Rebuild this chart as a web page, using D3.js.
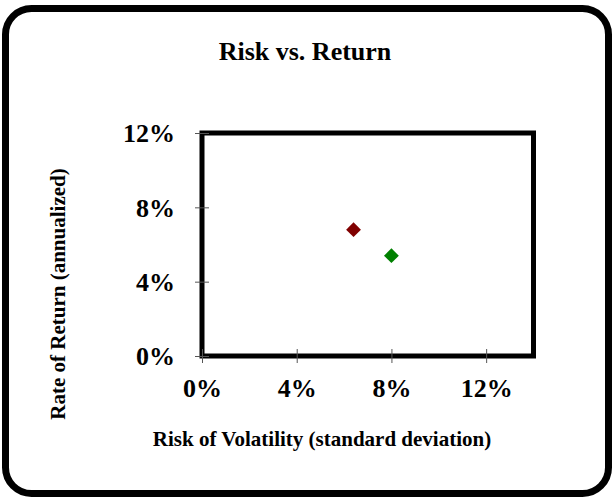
<!DOCTYPE html>
<html>
<head>
<meta charset="utf-8">
<script src="https://cdn.jsdelivr.net/npm/d3@7"></script>
<style>
  body { margin: 0; background: #fff; }
  svg text { font-family: "Liberation Serif", "Times New Roman", serif; font-weight: bold; fill: #000; }
</style>
</head>
<body>
<svg id="chart"></svg>
<script>
(function() {

    // data
    const names = ['Portfolio A', 'Portfolio B'];
    const risk = [6.4, 8.0];
    const ret = [6.8, 5.4];
    const colors = ['#800000', '#008000'];
    const xTicks = [0, 4, 8, 12];
    const yTicks = [0, 4, 8, 12];

    const w = 613;
    const h = 498;

    const plot = { left: 202, right: 533.5, top: 133, bottom: 356 };

    const svg = d3.select('#chart')
        .attr('width', w)
        .attr('height', h);

    // outer frame
    svg.append('rect')
        .attr('x', 5.5)
        .attr('y', 8.5)
        .attr('width', 603)
        .attr('height', 485)
        .attr('rx', 26)
        .attr('fill', '#fff')
        .attr('stroke', '#000')
        .attr('stroke-width', 7);

    // Scales
    const scaleX = d3.scaleLinear().domain([0, 14]).range([plot.left, plot.right]);
    const scaleY = d3.scaleLinear().domain([0, 12]).range([plot.bottom, plot.top]);

    // title
    svg.append('text')
        .attr('x', 305)
        .attr('y', 60)
        .attr('text-anchor', 'middle')
        .style('font-size', '26px')
        .text('Risk vs. Return');

    // plot box
    svg.append('rect')
        .attr('x', plot.left)
        .attr('y', plot.top)
        .attr('width', plot.right - plot.left)
        .attr('height', plot.bottom - plot.top)
        .attr('fill', 'none')
        .attr('stroke', '#000')
        .attr('stroke-width', 5);

    // Axes (cross ticks)
    const xAxis = d3.axisBottom(scaleX)
        .tickValues(xTicks)
        .tickSize(7)
        .tickFormat(d => d + '%');

    const yAxis = d3.axisLeft(scaleY)
        .tickValues(yTicks)
        .tickSize(7)
        .tickFormat(d => d + '%');

    const gx = svg.append('g')
        .attr('transform', `translate(0, ${plot.bottom})`)
        .attr('font-family', null)
        .attr('font-size', null)
        .call(xAxis);
    gx.select('.domain').remove();
    gx.selectAll('.tick line').attr('y1', -7).attr('stroke', '#555');
    gx.selectAll('.tick text')
        .attr('y', 41)
        .attr('dy', 0)
        .style('font-size', '26px')
        .style('font-weight', 'bold')
        .style('font-family', '"Liberation Serif", serif');

    const gy = svg.append('g')
        .attr('transform', `translate(${plot.left}, 0)`)
        .call(yAxis);
    gy.select('.domain').remove();
    gy.selectAll('.tick line').attr('x1', 7).attr('stroke', '#555');
    gy.selectAll('.tick text')
        .attr('x', -27)
        .attr('dy', '0.34em')
        .style('font-size', '26px')
        .style('font-weight', 'bold')
        .style('font-family', '"Liberation Serif", serif');

    // axis titles
    svg.append('text')
        .attr('x', 322)
        .attr('y', 446)
        .attr('text-anchor', 'middle')
        .style('font-size', '21px')
        .text('Risk of Volatility (standard deviation)');

    svg.append('text')
        .attr('transform', 'translate(65, 294) rotate(-90)')
        .attr('text-anchor', 'middle')
        .style('font-size', '21px')
        .text('Rate of Return (annualized)');

    // points
    const diamond = d3.symbol().type(d3.symbolSquare).size(110);
    svg.selectAll('.pt')
        .data(names.map((n, i) => ({ name: n, x: risk[i], y: ret[i], c: colors[i] })))
        .enter()
        .append('path')
        .attr('class', 'pt')
        .attr('d', diamond)
        .attr('transform', d => `translate(${scaleX(d.x)}, ${scaleY(d.y)}) rotate(45)`)
        .attr('fill', d => d.c);

})();
</script>
</body>
</html>
